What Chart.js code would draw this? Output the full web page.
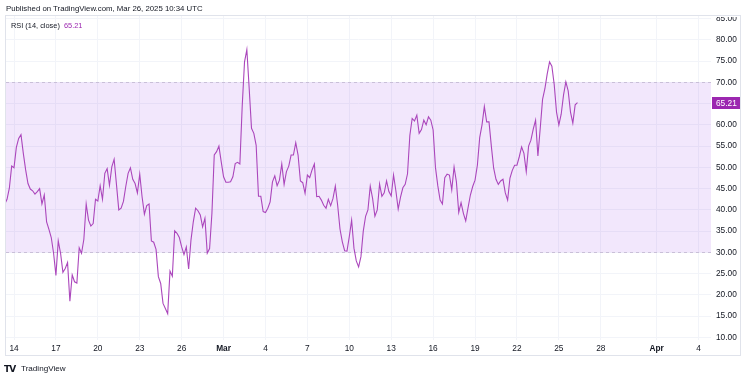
<!DOCTYPE html>
<html>
<head>
<meta charset="utf-8">
<script src="https://cdn.jsdelivr.net/npm/chart.js@4.4.1/dist/chart.umd.min.js"></script>
<style>
html,body{margin:0;padding:0;background:#fff;}
#wrap{position:relative;width:749px;height:379px;overflow:hidden;font-family:"Liberation Sans",Arial,sans-serif;}
#c{position:absolute;left:0;top:0;}
.t{position:absolute;white-space:nowrap;color:#131722;}
</style>
</head>
<body>
<div id="wrap">
<canvas id="c" width="749" height="379"></canvas>
<div class="t" style="left:6px;top:3px;font-size:7.8px;line-height:12px;">Published on TradingView.com, Mar 26, 2025 10:34 UTC</div>
<div class="t" style="left:11px;top:20px;font-size:7.4px;line-height:12px;">RSI (14, close)&nbsp;&nbsp;<span style="color:#9c27b0">65.21</span></div>
<div class="t" style="left:4px;top:363px;font-size:9px;line-height:12px;font-weight:900;font-family:'DejaVu Sans',sans-serif;letter-spacing:-1px;">TV</div>
<div class="t" style="left:21px;top:363px;font-size:8.1px;line-height:12px;">TradingView</div>
</div>
<script>
// ---- data ----
const seriesName = 'RSI (14, close)';
const startTimeUTC = Date.UTC(2025, 1, 13, 8, 0);   // first 4h bar
const barHours = 4;
const axisOriginUTC = Date.UTC(2025, 1, 14, 0, 0);  // Feb 14
const rsiValues = [
  41.3, 42.5, 45.1, 50.3, 49.9, 54.7, 56.8, 57.7, 53.3, 49.4,
  46.2, 44.9, 44.5, 43.7, 44.3, 45.0, 41.4, 43.5, 37.2, 35.4,
  33.5, 29.8, 24.6, 32.7, 29.8, 25.3, 26.2, 27.6, 18.5, 24.7,
  23.1, 22.8, 31.1, 29.8, 33.1, 41.4, 37.6, 36.2, 36.8, 42.5,
  42.1, 45.7, 42.5, 48.6, 49.7, 45.8, 50.1, 51.9,
  46.0, 40.0, 40.4, 42.0, 45.5, 48.6, 49.9, 47.2, 46.2, 44.0,
  48.4, 43.1, 39.0, 41.0, 41.4, 32.7, 32.4, 30.7, 24.3, 22.7,
  18.0, 16.8, 15.6, 25.6, 24.4, 35.1, 34.5, 33.5, 31.3, 29.5,
  31.3, 26.1, 32.9, 37.2, 40.4, 39.8, 38.8, 36.0, 38.0, 29.8,
  30.9, 39.2, 52.9, 53.7, 55.0, 51.3, 47.8, 46.5, 46.5, 46.6,
  47.8, 50.9, 51.2, 50.8, 64.3, 74.8, 77.7, 68.6, 59.2, 58.0,
  55.2, 43.2, 43.2, 39.6, 39.4, 40.4, 41.9, 46.6, 48.0, 45.7,
  47.0, 50.8, 46.0, 49.0, 50.3, 52.9, 52.9, 55.8, 52.9, 46.8,
  46.4, 43.9, 48.2, 47.6, 49.4, 50.8, 43.1, 43.2, 42.3, 41.1,
  40.4, 42.5, 41.0, 42.7, 45.6, 41.1, 35.5, 32.5, 30.4, 30.3,
  33.7, 37.6, 31.0, 28.0, 26.6, 29.0, 35.0, 38.5, 40.0, 45.6,
  42.7, 38.5, 40.0, 46.1, 43.2, 44.0, 46.8, 44.3, 43.3, 48.2,
  44.5, 40.2, 43.0, 45.2, 46.0, 48.5, 57.5, 61.5, 60.9, 62.3,
  58.0, 58.9, 61.1, 60.0, 61.9, 61.1, 58.8, 50.0, 45.7, 42.3,
  41.4, 47.6, 48.4, 48.2, 44.7, 50.1, 46.6, 39.4, 41.7, 39.2,
  37.4, 40.5, 43.5, 45.5, 47.0, 50.5, 57.0, 60.0, 64.3, 60.7,
  60.7, 55.0, 49.8, 47.2, 46.0, 46.8, 47.2, 44.0, 42.3, 47.5,
  49.3, 50.5, 50.5, 52.5, 54.8, 53.3, 49.0, 55.0, 56.4, 59.0,
  61.1, 52.7, 59.2, 66.0, 68.5, 72.0, 74.8, 73.8, 69.5, 63.0,
  60.0, 62.5, 67.0, 70.1, 68.0, 63.0, 60.4, 64.7, 65.21
];
const xTickDays = [0, 3, 6, 9, 12, 15, 18, 21, 24, 27, 30, 33, 36, 39, 42, 46, 49];
const xTickLabels = ['14','17','20','23','26','Mar','4','7','10','13','16','19','22','25','28','Apr','4'];
const yTickValues = [10, 15, 20, 25, 30, 35, 40, 45, 50, 55, 60, 65, 70, 75, 80, 85];
const bandLevels = [70, 30];
const xRange = [-0.573, 49.89];
const yRange = [9.4, 85.84];

// ---- build ----
const DAY = 86400000;
const points = rsiValues.map((v, i) => ({
  x: (startTimeUTC + i * barHours * 3600000 - axisOriginUTC) / DAY,
  y: v
}));
const lastValue = rsiValues[rsiValues.length - 1];
const FONT = '"Liberation Sans", Arial, sans-serif';
const TXT = '#131722';
const GRID = '#f2f4f9';

const bandPlugin = {
  id: 'band',
  beforeDatasetsDraw(chart) {
    const {ctx, chartArea: a, scales: {y}} = chart;
    const yTop = y.getPixelForValue(bandLevels[0]);
    const yBot = y.getPixelForValue(bandLevels[1]);
    ctx.save();
    ctx.fillStyle = 'rgba(149,56,234,0.12)';
    ctx.fillRect(a.left, yTop, a.right - a.left, yBot - yTop);
    ctx.strokeStyle = '#c9bfd8';
    ctx.lineWidth = 1;
    ctx.setLineDash([3, 3]);
    [yTop, yBot].forEach(py => {
      const yy = Math.round(py) + 0.5;
      ctx.beginPath();
      ctx.moveTo(a.left, yy);
      ctx.lineTo(a.right, yy);
      ctx.stroke();
    });
    ctx.restore();
  },
  afterDraw(chart) {
    const {ctx, chartArea: a, scales: {y}} = chart;
    ctx.save();
    // price labels are cut off by the pane top
    ctx.fillStyle = '#fff';
    ctx.fillRect(a.right - 2, 0, chart.width - a.right + 2, a.top + 2);
    // pane frame
    ctx.strokeStyle = '#e0e3eb';
    ctx.lineWidth = 1;
    ctx.strokeRect(a.left - 0.5, a.top + 0.5, 735, 340);
    // last value badge
    const py = y.getPixelForValue(lastValue);
    ctx.fillStyle = '#9c27b0';
    ctx.fillRect(a.right + 1, Math.round(py) - 6, 28, 12);
    ctx.fillStyle = '#fff';
    ctx.font = '8.3px ' + FONT;
    ctx.textBaseline = 'middle';
    ctx.textAlign = 'left';
    ctx.fillText(lastValue.toFixed(2), a.right + 5, Math.round(py) + 0.5);
    ctx.restore();
  }
};

new Chart(document.getElementById('c'), {
  type: 'line',
  data: {
    datasets: [{
      label: seriesName,
      data: points,
      borderColor: '#ab47bc',
      borderWidth: 1.1,
      pointRadius: 0,
      tension: 0,
      fill: false
    }]
  },
  options: {
    responsive: false,
    animation: false,
    devicePixelRatio: 1,
    layout: { padding: { left: 6, top: 15, right: 8, bottom: 24 } },
    plugins: { legend: { display: false }, tooltip: { enabled: false } },
    scales: {
      x: {
        type: 'linear',
        min: xRange[0],
        max: xRange[1],
        afterBuildTicks: s => { s.ticks = xTickDays.map(v => ({ value: v })); },
        afterFit: s => { s.height = 15; },
        grid: { color: GRID, drawTicks: false },
        border: { display: false },
        ticks: {
          autoSkip: false,
          maxRotation: 0,
          padding: 4,
          color: TXT,
          font: ctx => ({ family: FONT, size: 8.3,
            weight: (xTickLabels[ctx.index] === 'Mar' || xTickLabels[ctx.index] === 'Apr') ? 'bold' : 'normal' }),
          callback: (v, i) => xTickLabels[i]
        }
      },
      y: {
        type: 'linear',
        position: 'right',
        min: yRange[0],
        max: yRange[1],
        afterBuildTicks: s => { s.ticks = yTickValues.map(v => ({ value: v })); },
        afterFit: s => { s.width = 30; },
        grid: { color: GRID, drawTicks: false },
        border: { display: false },
        ticks: {
          padding: 5,
          color: TXT,
          font: { family: FONT, size: 8.3 },
          callback: v => (v === 65 ? '' : Number(v).toFixed(2))
        }
      }
    }
  },
  plugins: [bandPlugin]
});
</script>
</body>
</html>
